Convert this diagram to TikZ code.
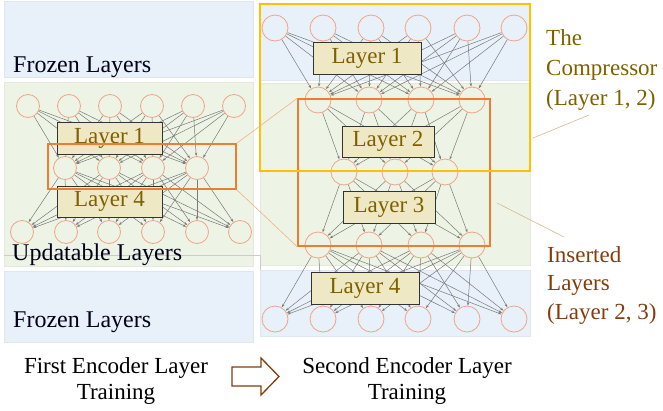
\documentclass[tikz,border=0pt]{standalone}
\usepackage{fontspec}
\setmainfont{Liberation Serif}
\usetikzlibrary{arrows.meta,positioning,fit}

\definecolor{frozenblue}{RGB}{232,240,249}
\definecolor{updgreen}{RGB}{237,243,229}
\definecolor{neuroncol}{RGB}{240,165,135}
\definecolor{layerfill}{RGB}{238,233,196}
\definecolor{layertext}{RGB}{127,96,0}
\definecolor{zoomorange}{RGB}{237,125,49}
\definecolor{zoomline}{RGB}{244,177,131}
\definecolor{compyellow}{RGB}{255,192,0}
\definecolor{insbrown}{RGB}{132,60,12}
\definecolor{leadtan}{RGB}{215,185,145}

\begin{document}
\begin{tikzpicture}[x=1pt,y=-1pt,
    panel/.style={fill=#1,draw=#1!96!black,line width=0.3pt},
    lneuron/.style={circle,draw=neuroncol,line width=0.8pt,minimum size=23,inner sep=0pt},
    rneuron/.style={circle,draw=neuroncol,line width=0.8pt,minimum size=26,inner sep=0pt},
    link/.style={-{Stealth[length=3.5pt,width=2.4pt]},draw=black!52,line width=0.5pt},
    layerbox/.style={draw=black!80,fill=layerfill,text=layertext,line width=0.9pt,
      inner sep=0pt,font=\fontsize{23}{23}\selectfont},
    zoombox/.style={draw=zoomorange,line width=1.5pt,inner sep=0pt},
    bigtext/.style={inner sep=0pt,font=\fontsize{24}{24}\selectfont,text=black!90!blue}]
  \useasboundingbox (0,0) rectangle (663,410);

  % panels, first encoder layer training
  \fill[panel=frozenblue] (4,1) rectangle (253,77);
  \fill[panel=updgreen] (4,82) rectangle (253,266);
  \fill[panel=frozenblue] (4,271) rectangle (253,342);
  % panels, second encoder layer training
  \fill[panel=frozenblue] (260,4) rectangle (530,80);
  \fill[panel=updgreen] (260,83) rectangle (530,265);
  \fill[panel=frozenblue] (260,270) rectangle (530,336);
  \draw[black!20,line width=0.4pt] (4,255) -- (260,255) -- (260,270);

  \node[bigtext,anchor=base west] (frozTop) at (13,72) {Frozen Layers};
  \node[bigtext,anchor=base west] (updLbl) at (12,260) {Updatable Layers};
  \node[bigtext,anchor=base west] (frozBot) at (13,327) {Frozen Layers};

  % left network
  \foreach \x [count=\i] in {28,69,110,152,193,234}
    \node[lneuron] (la\i) at (\x,106) {};
  \foreach \x [count=\i] in {65,109,153,197}
    \node[lneuron] (lb\i) at (\x,168) {};
  \foreach \x [count=\i] in {22,66,109,153,197,240}
    \node[lneuron] (lc\i) at (\x,232) {};
  \foreach \i in {1,...,6}
    \foreach \j in {1,...,4} {
      \draw[link] (la\i) -- (lb\j);
      \draw[link] (lb\j) -- (lc\i);
    }

  % right network
  \foreach \x [count=\i] in {275,323,371,418,467,514} {
    \node[rneuron] (ra\i) at (\x,28) {};
    \node[rneuron] (re\i) at (\x,319) {};
  }
  \foreach \x [count=\i] in {318,369,421,472} {
    \node[rneuron] (rb\i) at (\x,100) {};
    \node[rneuron] (rd\i) at (\x,245) {};
  }
  \foreach \x [count=\i] in {344,395,445}
    \node[rneuron] (rc\i) at (\x,172) {};
  \foreach \i in {1,...,6}
    \foreach \j in {1,...,4} {
      \draw[link] (ra\i) -- (rb\j);
      \draw[link] (rd\j) -- (re\i);
    }
  \foreach \i in {1,...,4}
    \foreach \j in {1,...,3} {
      \draw[link] (rb\i) -- (rc\j);
      \draw[link] (rc\j) -- (rd\i);
    }

  % layer labels
  \node[layerbox,minimum width=105,minimum height=32] (lLay1) at (109.5,138) {Layer 1};
  \node[layerbox,minimum width=105,minimum height=31] (lLay4) at (109.5,201.5) {Layer 4};
  \node[layerbox,minimum width=108,minimum height=32] (rLay1) at (367,58) {Layer 1};
  \node[layerbox,minimum width=92,minimum height=31] (rLay2) at (388,141.5) {Layer 2};
  \node[layerbox,minimum width=92,minimum height=32] (rLay3) at (389,207) {Layer 3};
  \node[layerbox,minimum width=108,minimum height=32] (rLay4) at (365,288) {Layer 4};

  % zoom boxes
  \node[zoombox,minimum width=188,minimum height=45] (zoomL) at (142,166.5) {};
  \node[zoombox,minimum width=192,minimum height=147] (zoomR) at (394,172.5) {};
  \node[draw=compyellow,line width=1.5pt,inner sep=0pt,
    minimum width=270,minimum height=167] (compBox) at (395,87.5) {};
  \draw[zoomline,line width=0.6pt] (zoomL.north east) -- (zoomR.north west);
  \draw[zoomline,line width=0.6pt] (zoomL.south east) -- (zoomR.south west);

  % side labels
  \node[anchor=north west,align=left,inner sep=0pt,text=layertext,
    font=\fontsize{23}{30}\selectfont] (compLbl) at (546,29)
    {The\\Compressor\\(Layer 1, 2)};
  \node[anchor=north west,align=left,inner sep=0pt,text=insbrown,
    font=\fontsize{23}{28.5}\selectfont] (insLbl) at (547,246)
    {Inserted\\Layers\\(Layer 2, 3)};
  \coordinate (compA) at (533,138);
  \coordinate (compB) at (589,115);
  \coordinate (insA) at (497,203);
  \coordinate (insB) at (564,237);
  \draw[leadtan,line width=0.6pt] (compA) -- (compB);
  \draw[leadtan,line width=0.6pt] (insA) -- (insB);

  % bottom captions
  \node[anchor=north,align=center,inner sep=0pt,
    font=\fontsize{23}{26}\selectfont] (firstCap) at (116,357)
    {First Encoder Layer\\Training};
  \node[anchor=north,align=center,inner sep=0pt,
    font=\fontsize{23}{26}\selectfont] (secondCap) at (407,357)
    {Second Encoder Layer\\Training};
  \draw[insbrown,line width=1.3pt,fill=white,line join=miter]
    (232,367) -- (261,367) -- (261,358) -- (279,376.5) -- (261,395)
    -- (261,386) -- (232,386) -- cycle;
\end{tikzpicture}
\end{document}
